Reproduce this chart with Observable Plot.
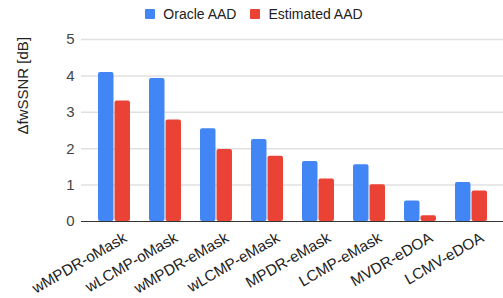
<!DOCTYPE html>
<html>
<head>
<meta charset="utf-8">
<script src="https://cdn.jsdelivr.net/npm/d3@7"></script>
<script src="https://cdn.jsdelivr.net/npm/@observablehq/plot@0.6"></script>
<style>
  body { margin: 0; background: #fff; font-family: "Liberation Sans", Arial, sans-serif; }
  #legend { height: 28px; display: flex; justify-content: center; align-items: center; font-size: 14px; color: #222; padding-left: 5px; box-sizing: border-box; }
  .item { display: flex; align-items: center; margin: 0 7px; }
  .sw { width: 10px; height: 10px; margin-right: 8px; border-radius: 1px; }
</style>
</head>
<body>
<div id="legend"></div>
<div id="chart"></div>
<script>
const methods = ["wMPDR-oMask","wLCMP-oMask","wMPDR-eMask","wLCMP-eMask","MPDR-eMask","LCMP-eMask","MVDR-eDOA","LCMV-eDOA"];
const oracleAAD = [4.09, 3.93, 2.55, 2.25, 1.65, 1.56, 0.56, 1.07];
const estimatedAAD = [3.31, 2.79, 1.98, 1.79, 1.17, 1.01, 0.16, 0.84];
const seriesNames = ["Oracle AAD", "Estimated AAD"];
const seriesColors = ["#4285F4", "#EA4335"];
const yTicks = [0, 1, 2, 3, 4, 5];
const yTitle = "ΔfwSSNR [dB]";

const oracle = methods.map((m, i) => ({method: m, value: oracleAAD[i]}));
const estimated = methods.map((m, i) => ({method: m, value: estimatedAAD[i]}));

const legend = document.getElementById("legend");
seriesNames.forEach((s, i) => {
  const it = document.createElement("div");
  it.className = "item";
  it.innerHTML = `<span class="sw" style="background:${seriesColors[i]}"></span><span>${s}</span>`;
  legend.appendChild(it);
});

const chart = Plot.plot({
  width: 503,
  height: 270,
  marginLeft: 81,
  marginRight: 0,
  marginTop: 11,
  marginBottom: 77,
  style: {fontFamily: "'Liberation Sans', Arial, sans-serif", fontSize: "15px", color: "#222"},
  x: {domain: methods, range: [79, 506], padding: 0.373, round: false, axis: null},
  y: {domain: [0, 5], axis: null},
  marks: [
    Plot.ruleY(yTicks.filter(d => d > 0), {stroke: "#e0e0e0", strokeWidth: 1.5}),
    Plot.barY(oracle, {x: "method", y: "value", fill: seriesColors[0], insetRight: 16.5, rx: 2}),
    Plot.barY(estimated, {x: "method", y: "value", fill: seriesColors[1], insetLeft: 16.5, rx: 2}),
    Plot.ruleY([0], {stroke: "#333", strokeWidth: 1}),
    Plot.axisY({ticks: yTicks, tickFormat: d3.format("d"), tickSize: 0, tickPadding: 7, label: null, fill: "#444", fontSize: 15}),
    Plot.text(methods, {x: d => d, frameAnchor: "bottom", textAnchor: "end", lineAnchor: "middle", rotate: -30, dx: 11, dy: 15, fontSize: 15.3, fill: "#222"}),
    Plot.text([yTitle], {frameAnchor: "left", dx: -58, dy: 4, rotate: -90, fontSize: 15, fill: "#222"})
  ]
});
document.getElementById("chart").appendChild(chart);
</script>
</body>
</html>
